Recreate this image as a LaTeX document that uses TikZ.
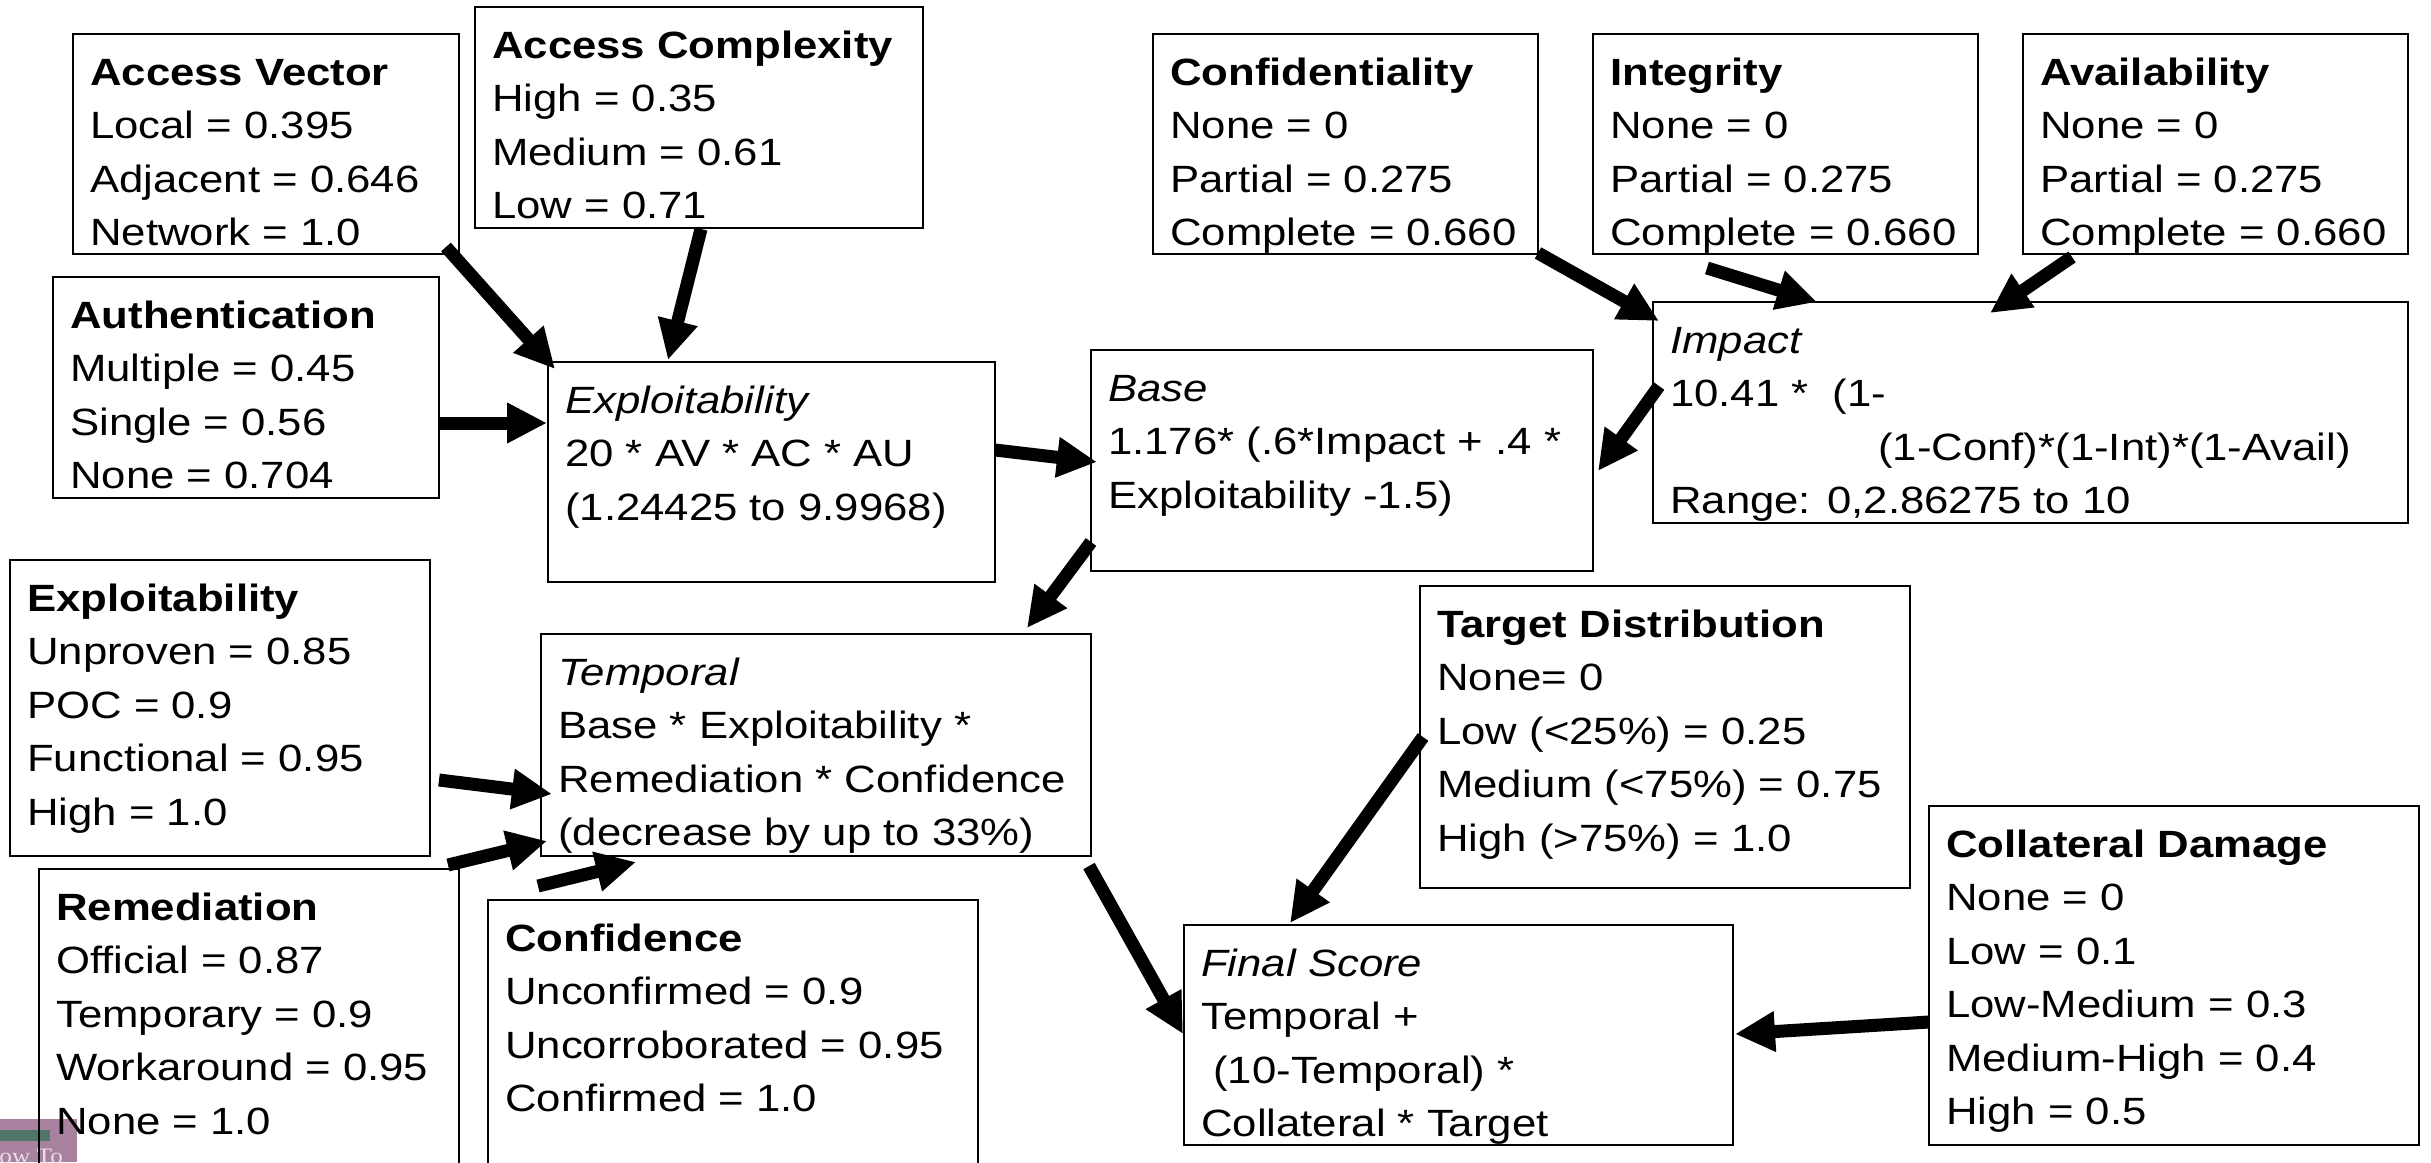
\documentclass[tikz,border=0pt]{standalone}
\usepackage{fontspec}
\setmainfont{Liberation Sans}[FakeStretch=1.15]
\newfontfamily\logofont{Liberation Serif}[FakeStretch=1.15]
\usetikzlibrary{arrows.meta,calc}

\definecolor{logopurple}{HTML}{A8819F}
\definecolor{logoteal}{HTML}{4F7669}
\definecolor{logotext}{HTML}{EADCE6}

% one left-aligned column of lines; its baseline is that of the first line
\newcommand\cvlines[1]{\begin{tabular}[t]{@{}l@{}}#1\end{tabular}}

\begin{document}
\begin{tikzpicture}[x=1pt,y=-1pt,
  box/.style={draw=black, line width=2.5pt, anchor=north west, inner sep=0pt, outer sep=0pt},
  txt/.style={anchor=base west, inner sep=0pt, font=\fontsize{38}{53.5}\selectfont},
  arr/.style={line width=13pt, -{Triangle[length=40pt,width=38pt]}}]

\useasboundingbox (0,0) rectangle (2431,1162);
\clip (0,0) rectangle (2431,1162);

% corner logo
\fill[logopurple] (0,1119) rectangle (77,1162);
\fill[logoteal] (0,1130) rectangle (50,1141);
\node[anchor=base west, inner sep=0pt, text=logotext,
      font=\logofont\fontsize{22}{22}\selectfont] (logo) at (-19,1163) {How To};

% base metric groups
\node[box, minimum width=386pt, minimum height=220pt] (av) at (73,34) {};
\node[txt] (avT) at ($(av.north west)+(17,51)$)
  {\cvlines{\textbf{Access Vector}\\Local = 0.395\\Adjacent = 0.646\\Network = 1.0}};

\node[box, minimum width=448pt, minimum height=221pt] (ac) at (475,7) {};
\node[txt] (acT) at ($(ac.north west)+(17,51)$)
  {\cvlines{\textbf{Access Complexity}\\High = 0.35\\Medium = 0.61\\Low = 0.71}};

\node[box, minimum width=386pt, minimum height=221pt] (au) at (53,277) {};
\node[txt] (auT) at ($(au.north west)+(17,51)$)
  {\cvlines{\textbf{Authentication}\\Multiple = 0.45\\Single = 0.56\\None = 0.704}};

\node[box, minimum width=447pt, minimum height=220pt] (ex) at (548,362) {};
\node[txt] (exT) at ($(ex.north west)+(17,51)$)
  {\cvlines{\textit{Exploitability}\\20 * AV * AC * AU\\(1.24425 to 9.9968)}};

\node[box, minimum width=502pt, minimum height=221pt] (base) at (1091,350) {};
\node[txt] (baseT) at ($(base.north west)+(17,51)$)
  {\cvlines{\textit{Base}\\1.176* (.6*Impact + .4 *\\Exploitability -1.5)}};

\node[box, minimum width=385pt, minimum height=220pt] (conf) at (1153,34) {};
\node[txt] (confT) at ($(conf.north west)+(17,51)$)
  {\cvlines{\textbf{Confidentiality}\\None = 0\\Partial = 0.275\\Complete = 0.660}};

\node[box, minimum width=385pt, minimum height=220pt] (integ) at (1593,34) {};
\node[txt] (integT) at ($(integ.north west)+(17,51)$)
  {\cvlines{\textbf{Integrity}\\None = 0\\Partial = 0.275\\Complete = 0.660}};

\node[box, minimum width=385pt, minimum height=220pt] (avail) at (2023,34) {};
\node[txt] (availT) at ($(avail.north west)+(17,51)$)
  {\cvlines{\textbf{Availability}\\None = 0\\Partial = 0.275\\Complete = 0.660}};

\node[box, minimum width=755pt, minimum height=221pt] (impact) at (1653,302) {};
\node[txt] (impactT) at ($(impact.north west)+(17,51)$)
  {\cvlines{\textit{Impact}\\10.41 *\ \ (1-\\\hspace*{208pt}(1-Conf)*(1-Int)*(1-Avail)\\Range: 0,2.86275 to 10}};

% temporal metric groups
\node[box, minimum width=420pt, minimum height=296pt] (et) at (10,560) {};
\node[txt] (etT) at ($(et.north west)+(17,51)$)
  {\cvlines{\textbf{Exploitability}\\Unproven = 0.85\\POC = 0.9\\Functional = 0.95\\High = 1.0}};

\node[box, minimum width=550pt, minimum height=222pt] (temporal) at (541,634) {};
\node[txt] (temporalT) at ($(temporal.north west)+(17,51)$)
  {\cvlines{\textit{Temporal}\\Base * Exploitability *\\Remediation * Confidence\\(decrease by up to 33\%)}};

\node[box, minimum width=420pt, minimum height=340pt] (rem) at (39,869) {};
\node[txt] (remT) at ($(rem.north west)+(17,51)$)
  {\cvlines{\textbf{Remediation}\\Official = 0.87\\Temporary = 0.9\\Workaround = 0.95\\None = 1.0}};

\node[box, minimum width=490pt, minimum height=310pt] (cf) at (488,900) {};
\node[txt] (cfT) at ($(cf.north west)+(17,51)$)
  {\cvlines{\textbf{Confidence}\\Unconfirmed = 0.9\\Uncorroborated = 0.95\\Confirmed = 1.0}};

% environmental metric groups
\node[box, minimum width=490pt, minimum height=302pt] (td) at (1420,586) {};
\node[txt] (tdT) at ($(td.north west)+(17,51)$)
  {\cvlines{\textbf{Target Distribution}\\None= 0\\Low (<25\%) = 0.25\\Medium (<75\%) = 0.75\\High (>75\%) = 1.0}};

\node[box, minimum width=549pt, minimum height=220pt] (final) at (1184,925) {};
\node[txt] (finalT) at ($(final.north west)+(17,51)$)
  {\cvlines{\textit{Final Score}\\Temporal +\\\ (10-Temporal) *\\Collateral * Target}};

\node[box, minimum width=490pt, minimum height=339pt] (coll) at (1929,806) {};
\node[txt] (collT) at ($(coll.north west)+(17,51)$)
  {\cvlines{\textbf{Collateral Damage}\\None = 0\\Low = 0.1\\Low-Medium = 0.3\\Medium-High = 0.4\\High = 0.5}};

% flow of the scores
\draw[arr] ($(av.south east)+(-13,-7)$) -- ($(ex.north west)+(7,7)$);
\draw[arr] ($(ac.south west)+(226,1)$) -- ($(ex.north west)+(120,-2)$);
\draw[arr] ($(au.north east)+(1,146)$) -- ($(ex.north west)+(-1,61)$);
\draw[arr] ($(ex.north east)+(0,88)$) -- ($(base.north west)+(6,112)$);
\draw[arr] ($(conf.south east)+(0,-1)$) -- ($(impact.north west)+(6,19)$);
\draw[arr] ($(integ.south west)+(114,14)$) -- ($(impact.north west)+(164,0)$);
\draw[arr] ($(avail.south west)+(49,3)$) -- ($(impact.north west)+(337,11)$);
\draw[arr] ($(impact.north west)+(6,84)$) -- ($(base.north east)+(5,121)$);
\draw[arr] ($(base.south west)+(0,-29)$) -- ($(temporal.north east)+(-64,-6)$);
\draw[arr] ($(et.north east)+(9,220)$) -- ($(temporal.north west)+(11,160)$);
\draw[arr] ($(rem.north east)+(-11,-4)$) -- ($(temporal.south west)+(6,-15)$);
\draw[arr] ($(cf.north west)+(50,-14)$) -- ($(temporal.south west)+(95,6)$);
\draw[arr] ($(temporal.south east)+(-2,10)$) -- ($(final.north west)+(-1,109)$);
\draw[arr] ($(td.north west)+(3,151)$) -- ($(final.north west)+(106,-2)$);
\draw[arr] ($(coll.north west)+(0,216)$) -- ($(final.north east)+(2,109)$);

\end{tikzpicture}
\end{document}
